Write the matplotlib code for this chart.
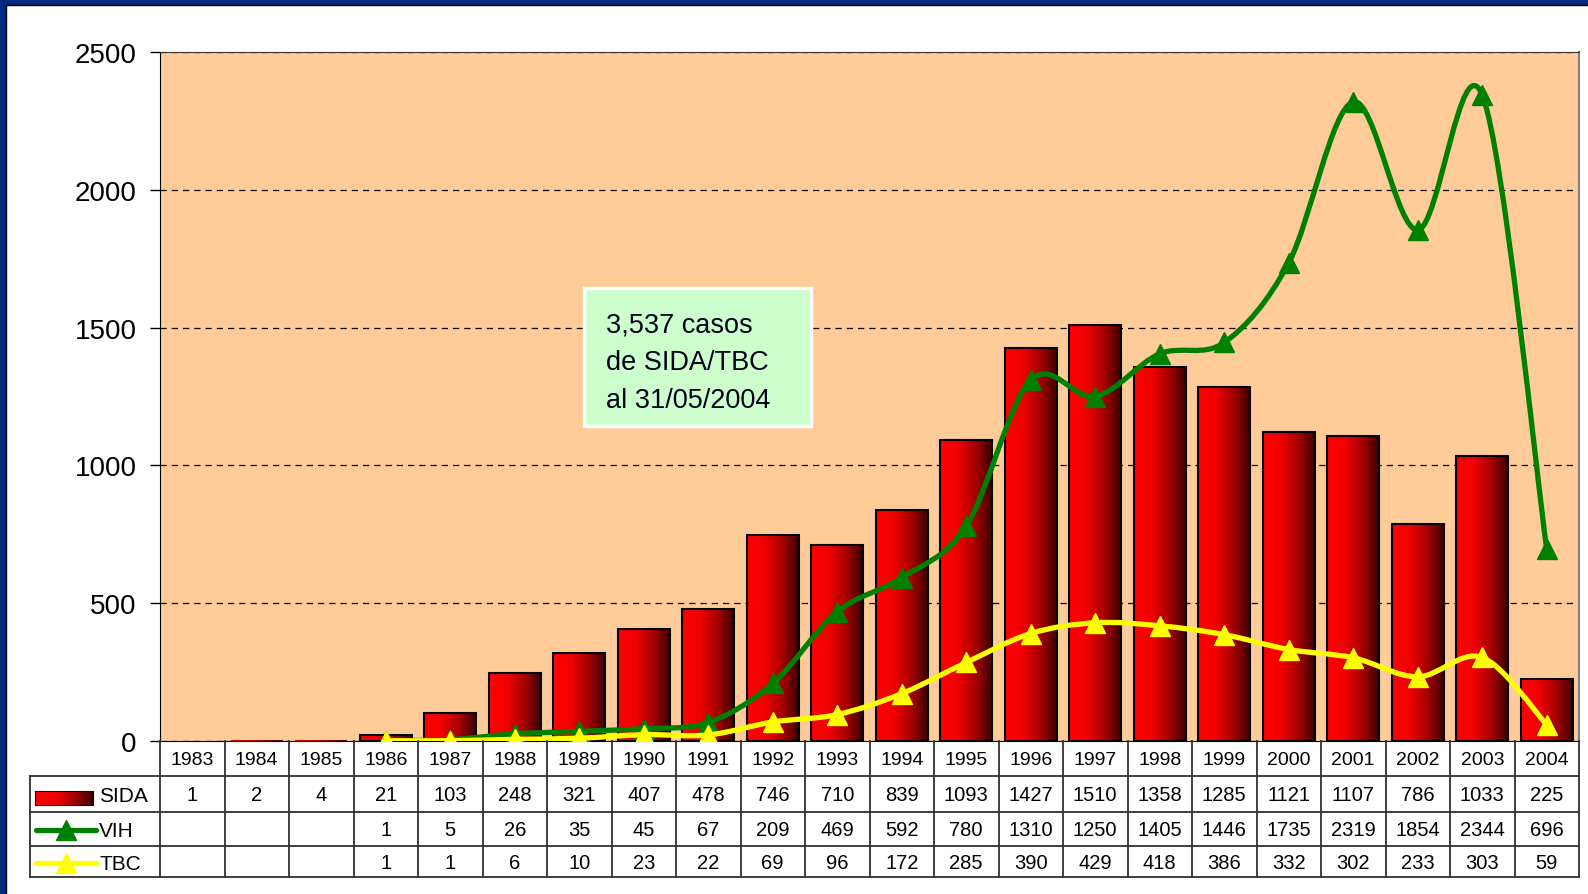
import numpy as np
import matplotlib
matplotlib.use('Agg')
import matplotlib.pyplot as plt
import matplotlib.font_manager as fm
from matplotlib.path import Path
from matplotlib.patches import PathPatch, Rectangle
from matplotlib.colors import LinearSegmentedColormap
from matplotlib.lines import Line2D

# ---- data ----
years = ['1983', '1984', '1985', '1986', '1987', '1988', '1989', '1990', '1991', '1992', '1993',
         '1994', '1995', '1996', '1997', '1998', '1999', '2000', '2001', '2002', '2003', '2004']
sida = [1, 2, 4, 21, 103, 248, 321, 407, 478, 746, 710, 839, 1093, 1427, 1510, 1358, 1285,
        1121, 1107, 786, 1033, 225]
vih = [None, None, None, 1, 5, 26, 35, 45, 67, 209, 469, 592, 780, 1310, 1250, 1405, 1446,
       1735, 2319, 1854, 2344, 696]
tbc = [None, None, None, 1, 1, 6, 10, 23, 22, 69, 96, 172, 285, 390, 429, 418, 386, 332,
       302, 233, 303, 59]
note_lines = ['3,537 casos', 'de SIDA/TBC', 'al 31/05/2004']

W, H = 1588, 895
GREEN = '#008000'
YELLOW = '#ffff00'
PEACH = '#ffcc99'
plt.rcParams['font.family'] = ['Liberation Sans', 'DejaVu Sans']

names = {f.name for f in fm.fontManager.ttflist}
if 'Liberation Sans Narrow' in names:
    note_font, note_size = 'Liberation Sans Narrow', 23
else:
    note_font, note_size = 'Liberation Sans', 19.5

bar_cmap = LinearSegmentedColormap.from_list(
    'bar', [(0, '#ff0000'), (0.35, '#f00000'), (0.7, '#a00000'), (1, '#3c0000')])


def fx(px):
    return px / W


def fy(py):
    return 1 - py / H


def smooth_path(xs, ys):
    # cubic bezier through the points, like Excel's smoothed line
    pts = np.column_stack([xs, ys]).astype(float)
    n = len(pts)
    verts = [pts[0]]
    codes = [Path.MOVETO]
    for i in range(n - 1):
        p0 = pts[i - 1] if i > 0 else pts[i]
        p1, p2 = pts[i], pts[i + 1]
        p3 = pts[i + 2] if i + 2 < n else pts[i + 1]
        verts += [p1 + (p2 - p0) / 6, p2 - (p3 - p1) / 6, p2]
        codes += [Path.CURVE4] * 3
    return Path(verts, codes)


fig = plt.figure(figsize=(W / 100, H / 100), dpi=100)

# blue frame at top and left
fig.patches.append(Rectangle((0, fy(6)), 1, 6 / H, transform=fig.transFigure,
                             facecolor='#002a80', edgecolor='none'))
fig.patches.append(Rectangle((0, 0), 6 / W, 1, transform=fig.transFigure,
                             facecolor='#002a80', edgecolor='none'))
fig.add_artist(Line2D([6 / W, 1], [fy(6), fy(6)], color='black', lw=1, transform=fig.transFigure))
fig.add_artist(Line2D([6 / W, 6 / W], [0, fy(6)], color='black', lw=1, transform=fig.transFigure))

ax = fig.add_axes([fx(160), fy(742), (1579 - 160) / W, (742 - 53) / H])
ax.set_facecolor(PEACH)
x = np.arange(len(years))

bars = ax.bar(x, sida, width=0.8, facecolor='none', edgecolor='black', lw=1.5, zorder=3)
grad = np.linspace(0, 1, 256).reshape(1, -1)
for xi, b in zip(x, bars):
    im = ax.imshow(grad, cmap=bar_cmap, extent=[xi - 0.4, xi + 0.4, 0, b.get_height()],
                   aspect='auto', zorder=2.5, interpolation='bilinear')
    im.set_clip_path(b)
    if b.get_height() < 10:
        b.set_linewidth(0)


def draw_series(vals, color, z):
    xs = [i for i, v in enumerate(vals) if v is not None]
    ys = [v for v in vals if v is not None]
    ax.add_patch(PathPatch(smooth_path(xs, ys), fill=False, edgecolor=color, lw=3.8,
                           capstyle='round', joinstyle='round', zorder=z))
    ax.plot(xs, ys, ls='none', marker='^', ms=14, color=color, mec=color, zorder=z + 0.1)


draw_series(vih, GREEN, 4)
draw_series(tbc, YELLOW, 5)

ax.set_xlim(-0.5, len(years) - 0.5)
ax.set_ylim(0, 2500)
ax.set_xticks([])
ax.set_yticks(range(0, 2501, 500))
ax.tick_params(axis='y', labelsize=20, length=7, width=1, pad=10)
ax.yaxis.grid(True, linestyle=(0, (5, 4)), color='black', lw=0.9)
ax.set_axisbelow(True)
ax.spines['left'].set_color('black')
ax.spines['bottom'].set_color('black')
ax.spines['top'].set_color('#333333')
ax.spines['right'].set_color('#808080')
ax.spines['right'].set_linewidth(1.5)

# note box
fig.patches.append(Rectangle((fx(584), fy(427)), (811 - 584) / W, (427 - 289) / H,
                             transform=fig.transFigure, facecolor='#ccffcc',
                             edgecolor='white', lw=2.5, zorder=10))
for line, base in zip(note_lines, [333, 370, 408]):
    fig.text(fx(606), fy(base), line, family=note_font, fontsize=note_size,
             color='#000018', va='baseline', ha='left', zorder=11)

# ---- data table ----
cw = (1579 - 160) / len(years)


def u(px):
    return (px - 160) / cw - 0.5


tax = fig.add_axes([fx(30), fy(878), (1579 - 30) / W, (878 - 742) / H])
tax.set_xlim(u(30), len(years) - 0.5)
tax.set_ylim(878, 742)
tax.axis('off')

edges = [742, 777, 813, 847, 878]
lc = '#303030'
for yv in edges[1:]:
    tax.plot([u(30), len(years) - 0.5], [yv, yv], color=lc, lw=1.3, clip_on=False)
for i in range(len(years) + 1):
    tax.plot([i - 0.5, i - 0.5], [742, 878], color=lc, lw=1.3, clip_on=False)
tax.plot([u(30), u(30)], [777, 878], color=lc, lw=1.3, clip_on=False)

rows = [sida, vih, tbc]
centers = [(edges[k] + edges[k + 1]) / 2 for k in range(4)]
for i, yr in enumerate(years):
    tax.text(i, centers[0] + 1, yr, ha='center', va='center', fontsize=14)
    for r, vals in enumerate(rows):
        if vals[i] is not None:
            tax.text(i, centers[r + 1] + 1, str(vals[i]), ha='center', va='center', fontsize=14.5)

# legend keys in the table
key = Rectangle((u(36), 793), u(93) - u(36), 13, facecolor='none', edgecolor='black', lw=1.5)
tax.add_patch(key)
kim = tax.imshow(grad, cmap=bar_cmap, extent=[u(36), u(93), 806, 793], aspect='auto', zorder=1)
kim.set_clip_path(key)
for yk, color in [(831, GREEN), (864, YELLOW)]:
    tax.plot([u(36), u(96)], [yk, yk], color=color, lw=3.8, solid_capstyle='round')
    tax.plot([u(66)], [yk], marker='^', ms=14, color=color)
for label, c in zip(['SIDA', 'VIH', 'TBC'], centers[1:]):
    tax.text(u(99), c + 2, label, ha='left', va='center', fontsize=15)

fig.savefig('out.png', dpi=100)
